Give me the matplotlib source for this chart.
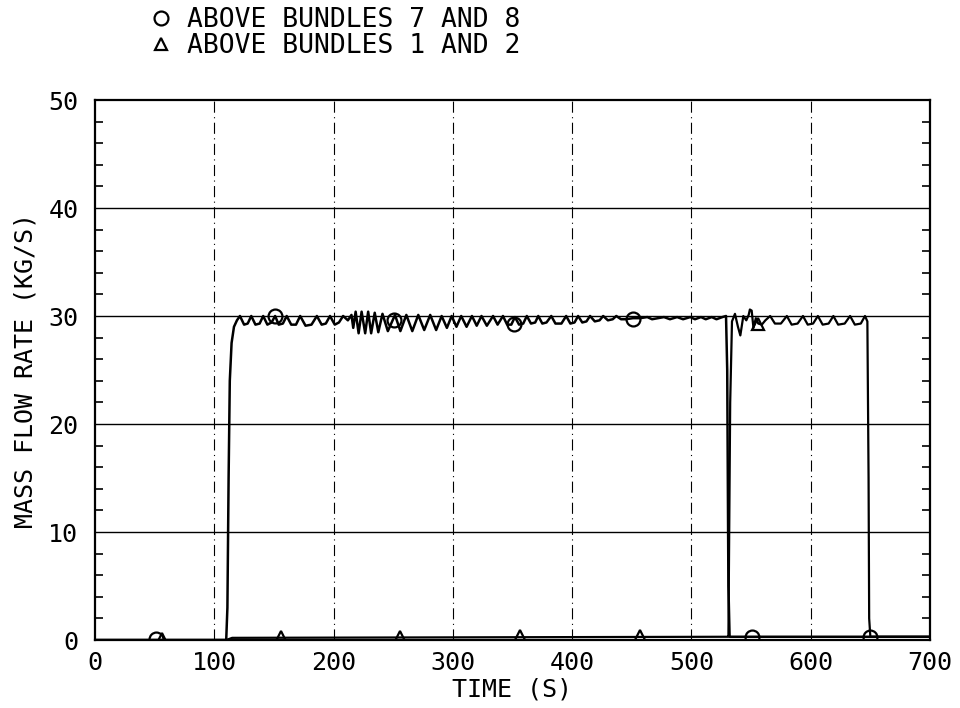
import matplotlib
matplotlib.use("Agg")
import matplotlib.pyplot as plt
from matplotlib.lines import Line2D
from matplotlib.ticker import MultipleLocator

# flow above bundles 7 and 8 (circles)
t_78 = [0, 110, 111, 112, 113, 114.5, 116.5, 119, 121.5,
        125, 128, 131, 134.5, 138, 141, 144.5, 148, 151, 154, 157.5, 160.7,
        164.5, 168.5, 172, 176.5, 181.5, 186, 190, 193.5, 197, 201, 204.5, 208,
        212, 215, 216.5, 218.5, 221, 223.5, 226.5, 229, 231.5, 234.5, 237.5, 241,
        245.5, 251.5, 256, 261, 266, 271, 276, 281, 286, 290.6, 295, 299, 303, 307,
        311.5, 316, 320, 324, 328.5, 333.7, 337.5, 342, 345.5, 349, 352, 355.5, 359,
        362, 365.5, 369, 371.6, 375, 378.5, 382.5, 386, 391, 395, 398.5, 402, 405,
        408.5, 412, 415, 419, 423, 426, 430, 434, 437, 441, 445, 451, 457, 463, 467,
        472, 477, 482, 488, 493, 499, 503, 508, 512, 517, 521, 526, 529, 530, 531,
        532, 700]
v_78 = [0, 0, 3, 15, 24, 27.5, 29.0, 29.6, 30.0,
        29.2, 29.3, 30.0, 29.2, 29.3, 30.0, 29.2, 29.4, 30.0, 29.2, 29.3, 30.0,
        29.2, 29.2, 30.0, 29.1, 29.2, 30.0, 29.2, 29.3, 30.0, 29.2, 29.4, 30.0,
        29.6, 30.1, 28.9, 30.4, 28.4, 30.4, 28.4, 30.4, 28.4, 30.3, 28.5, 30.2,
        28.6, 30.1, 28.6, 30.1, 28.6, 30.1, 28.7, 30.1, 28.7, 30.0, 28.9, 30.0, 29.0, 30.0,
        29.0, 30.0, 29.1, 30.0, 29.1, 30.0, 29.2, 30.0, 29.2, 29.2, 29.9, 29.2, 29.3,
        30.0, 29.3, 29.4, 30.0, 29.3, 29.4, 30.0, 29.3, 29.3, 30.0, 29.3, 29.4, 30.0,
        29.4, 29.5, 30.0, 29.5, 29.6, 30.0, 29.6, 29.7, 30.0, 29.7, 29.7, 29.8, 29.8, 29.9, 29.7,
        29.8, 29.9, 29.7, 29.9, 29.7, 29.9, 29.7, 29.9, 29.7, 29.9, 29.7, 29.9, 30.0, 25, 5,
        0.3, 0.3]

# flow above bundles 1 and 2 (triangles)
t_12 = [0, 110, 115, 530, 531, 532.5, 534, 536.5, 539, 541, 543.5, 546, 548, 549,
        550.5, 552, 554, 556, 559, 562, 566, 570, 575, 580, 584, 589, 593.5, 597.5,
        602, 606, 610, 615, 619, 623, 628.5, 633, 637, 642, 645.5, 647.5, 648.5, 649,
        650, 700]
v_12 = [0, 0, 0.2, 0.3, 0.3, 22, 29.5, 30.2, 29.0, 28.2, 30.0, 29.6, 30.1, 30.6,
        30.5, 28.9, 29.8, 29.3, 29.2, 29.6, 30.0, 29.3, 29.3, 30.0, 29.2, 29.3, 30.0, 29.2,
        29.3, 30.0, 29.2, 29.3, 30.0, 29.2, 29.3, 30.0, 29.2, 29.3, 30.0, 29.5, 15, 2,
        0.3, 0.3]

# marker positions
mk_t_78 = [51, 151, 251, 351, 451, 551, 650]
mk_v_78 = [0.1, 30.0, 29.6, 29.3, 29.7, 0.3, 0.3]
mk_t_12 = [56, 156, 256, 356, 457, 556]
mk_v_12 = [0.1, 0.3, 0.3, 0.4, 0.4, 29.3]

labels = ["ABOVE BUNDLES 7 AND 8", "ABOVE BUNDLES 1 AND 2"]

font = "DejaVu Sans Mono"
plt.rcParams["font.family"] = font

fig = plt.figure(figsize=(9.6, 7.08), dpi=100)
ax = fig.add_axes([95 / 960, 68 / 708, 835 / 960, 540 / 708])

ax.plot(t_78, v_78, color="black", lw=1.8)
ax.plot(t_12, v_12, color="black", lw=1.6)
ax.plot(mk_t_78, mk_v_78, ls="none", marker="o", ms=10, mfc="none", mec="black", mew=1.6)
ax.plot(mk_t_12, mk_v_12, ls="none", marker="^", ms=8, mfc="none", mec="black", mew=1.6)

ax.set_xlim(0, 700)
ax.set_ylim(0, 50)
ax.xaxis.set_major_locator(MultipleLocator(100))
ax.yaxis.set_major_locator(MultipleLocator(10))
ax.yaxis.set_minor_locator(MultipleLocator(2))

for x in range(100, 700, 100):
    ax.axvline(x, color="black", lw=0.8, ls=(0, (10, 4, 1, 4)), zorder=0)
for y in range(10, 50, 10):
    ax.axhline(y, color="black", lw=1.0, zorder=0)

ax.tick_params(which="both", direction="in", top=True, right=True,
               labelsize=18, width=1.2)
ax.tick_params(axis="y", pad=12)
ax.tick_params(axis="x", pad=8)
ax.tick_params(which="major", length=0)
ax.tick_params(which="minor", length=6)
for s in ax.spines.values():
    s.set_linewidth(1.6)

ax.set_xlabel("TIME (S)", fontsize=18, labelpad=2)
ax.set_ylabel("MASS FLOW RATE (KG/S)", fontsize=18, labelpad=8)

handles = [Line2D([], [], ls="none", marker="o", ms=10, mfc="none", mec="black", mew=1.6),
           Line2D([], [], ls="none", marker="^", ms=8, mfc="none", mec="black", mew=1.6)]
fig.legend(handles, labels, loc="upper left", bbox_to_anchor=(150 / 960, 1 - 7 / 708),
           frameon=False, fontsize=19, handlelength=0.8, handletextpad=0.6,
           labelspacing=0.0, borderpad=0, borderaxespad=0)

fig.savefig("out.png", dpi=100)
